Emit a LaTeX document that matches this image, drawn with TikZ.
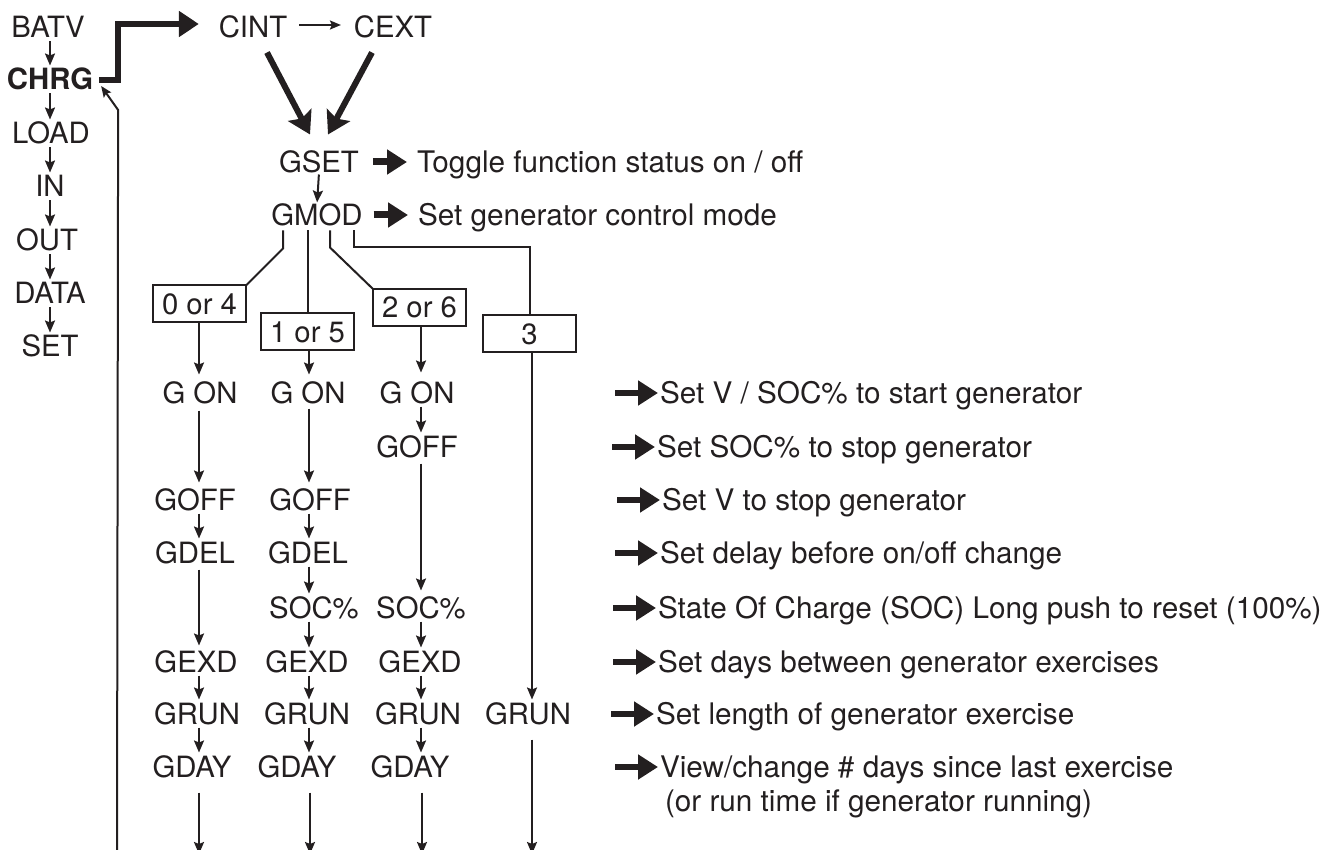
\documentclass[tikz,border=0pt]{standalone}
\usepackage{fontspec}
\setmainfont{TeX Gyre Heros}
\usetikzlibrary{arrows.meta,calc}
\definecolor{ink}{RGB}{35,31,32}
\newcommand{\lblfont}{\fontsize{29.3pt}{35pt}\selectfont}
\newcommand{\descfont}{\fontsize{29.7pt}{35pt}\selectfont}
\begin{document}
\begin{tikzpicture}[x=1pt,y=-1pt,
  lbl/.style={font=\lblfont,text=ink,inner sep=0pt,outer sep=0pt,text height=21pt,text depth=0pt},
  desc/.style={lbl,font=\descfont,anchor=west},
  modebox/.style={lbl,draw=ink,line width=2pt,minimum width=93pt,minimum height=37pt},
  thinline/.style={draw=ink,line width=2pt},
  arr/.style={thinline,-{Stealth[length=12pt,width=10pt,inset=2pt]},shorten <=3pt,shorten >=4pt},
  fat/.style={draw=ink,line width=6pt,-{Stealth[length=22pt,width=26pt,inset=4pt]}},
  side/.style={draw=ink,line width=7pt,-{Triangle[length=20pt,width=24pt]}}
]
\useasboundingbox (0,0) rectangle (1339,850);

% column coordinates
\coordinate (ax) at (50,0);
\coordinate (c1) at (199,0);
\coordinate (c2) at (309,0);
\coordinate (c3) at (421,0);
\coordinate (c4) at (532,0);

% left menu
\node[lbl] (batv) at (48,27) {BATV};
\node[lbl,font=\lblfont\bfseries] (chrg) at (50,79) {CHRG};
\node[lbl] (load) at (51,133) {LOAD};
\node[lbl] (in) at (50,186) {IN};
\node[lbl] (out) at (47,240) {OUT};
\node[lbl] (data) at (50,293) {DATA};
\node[lbl] (set) at (50,346) {SET};
\foreach \a/\b in {batv/chrg,chrg/load,load/in,in/out,out/data,data/set}
  \draw[arr,shorten <=4pt,shorten >=3pt] (\a.south -| ax) -- (\b.north -| ax);

% top
\node[lbl] (cint) at (253,27) {CINT};
\node[lbl] (cext) at (393,27) {CEXT};
\node[lbl] (gset) at (319,162) {GSET};
\node[lbl] (gmod) at (317,215) {GMOD};

\draw[draw=ink,line width=6pt,line join=miter,-{Triangle[length=20pt,width=25pt]}] ($(chrg.east)+(6,1)$) -| ($(chrg.east)+(25,-55)$) -- ($(cint.west)+(-20,-3)$);
\draw[thinline,-{Stealth[length=11pt,width=9pt,inset=2pt]}] ($(cint.east)+(12,-2)$) -- ($(cext.west)+(-13,-2)$);
\draw[fat] ($(cint.south)+(14,15)$) -- ($(gset.north)+(-9,-17)$);
\draw[fat] ($(cext.south)+(-21,15)$) -- ($(gset.north)+(9,-17)$);
\draw[arr,shorten <=2pt,shorten >=2pt] (gset.south) -- (gmod.north);

\node[desc] (tog) at (417,162) {Toggle function status on / off};
\node[desc] (mode) at (418,215) {Set generator control mode};
\draw[side] ($(gset.east)+(14,0)$) -- ($(tog.west)+(-10,0)$);
\draw[side] ($(gmod.east)+(11,0)$) -- ($(mode.west)+(-10,0)$);

% mode boxes
\node[modebox] (b04) at (199.5,304) {0 or 4};
\node[modebox] (b15) at (307.5,332) {1 or 5};
\node[modebox] (b26) at (419.5,307.5) {2 or 6};
\node[modebox] (b3) at (529.5,334) {3};

\draw[thinline,line join=miter] ($(gmod.south)+(-34,5)$) -- ($(gmod.south)+(-34,23)$) -- (b04.north east);
\draw[thinline] ($(gmod.south -| b15.north)+(0,5)$) -- (b15.north);
\draw[thinline,line join=miter] ($(gmod.south)+(13,5)$) -- ($(gmod.south)+(13,22)$) -- (b26.north west);
\draw[thinline,line join=miter] ($(gmod.south)+(37,5)$) |- ($(b3.north)+(0,-68)$) -- (b3.north);

% column 1
\node[lbl] (gon1) at (200,393) {G ON};
\node[lbl] (goff1) at (195,500) {GOFF};
\node[lbl] (gdel1) at (195,553) {GDEL};
\node[lbl] (gexd1) at (196,662) {GEXD};
\node[lbl] (grun1) at (197,714) {GRUN};
\node[lbl] (gday1) at (192,767) {GDAY};
% column 2
\node[lbl] (gon2) at (308,393) {G ON};
\node[lbl] (goff2) at (310,500) {GOFF};
\node[lbl] (gdel2) at (308,553) {GDEL};
\node[lbl] (soc2) at (314,608) {SOC\%};
\node[lbl] (gexd2) at (307,662) {GEXD};
\node[lbl] (grun2) at (307,714) {GRUN};
\node[lbl] (gday2) at (297,767) {GDAY};
% column 3
\node[lbl] (gon3) at (417,393) {G ON};
\node[lbl] (goff3) at (417,447) {GOFF};
\node[lbl] (soc3) at (421,608) {SOC\%};
\node[lbl] (gexd3) at (420,662) {GEXD};
\node[lbl] (grun3) at (418,714) {GRUN};
\node[lbl] (gday3) at (410,767) {GDAY};
% column 4
\node[lbl] (grun4) at (528,714) {GRUN};

% column arrows
\draw[arr,shorten <=0pt,shorten >=8pt] (b04.south -| c1) -- (gon1.north -| c1);
\draw[arr,shorten <=0pt,shorten >=8pt] (b15.south -| c2) -- (gon2.north -| c2);
\draw[arr,shorten <=0pt,shorten >=10pt] (b26.south -| c3) -- (gon3.north -| c3);
\draw[arr,shorten <=0pt,shorten >=4pt] (b3.south -| c4) -- (grun4.north -| c4);

\draw[arr,shorten <=7pt,shorten >=7pt] (gon1.south -| c1) -- (goff1.north -| c1);
\draw[arr] (goff1.south -| c1) -- (gdel1.north -| c1);
\draw[arr,shorten <=6pt,shorten >=6pt] (gdel1.south -| c1) -- (gexd1.north -| c1);
\draw[arr] (gexd1.south -| c1) -- (grun1.north -| c1);
\draw[arr] (grun1.south -| c1) -- (gday1.north -| c1);

\draw[arr,shorten <=5pt,shorten >=7pt] (gon2.south -| c2) -- (goff2.north -| c2);
\draw[arr] (goff2.south -| c2) -- (gdel2.north -| c2);
\draw[arr] (gdel2.south -| c2) -- (soc2.north -| c2);
\draw[arr] (soc2.south -| c2) -- (gexd2.north -| c2);
\draw[arr] (gexd2.south -| c2) -- (grun2.north -| c2);
\draw[arr] (grun2.south -| c2) -- (gday2.north -| c2);

\draw[arr] (gon3.south -| c3) -- (goff3.north -| c3);
\draw[arr,shorten <=6pt,shorten >=7pt] (goff3.south -| c3) -- (soc3.north -| c3);
\draw[arr] (soc3.south -| c3) -- (gexd3.north -| c3);
\draw[arr] (gexd3.south -| c3) -- (grun3.north -| c3);
\draw[arr] (grun3.south -| c3) -- (gday3.north -| c3);

% bottom exits
\coordinate (e1) at (199,854);
\coordinate (e2) at (310,854);
\coordinate (e3) at (422,854);
\coordinate (e4) at (532,854);
\draw[arr,shorten <=15pt,shorten >=0pt] (gday1.south -| e1) -- (e1);
\draw[arr,shorten <=15pt,shorten >=0pt] (gday2.south -| e2) -- (e2);
\draw[arr,shorten <=15pt,shorten >=0pt] (gday3.south -| e3) -- (e3);
\draw[arr,shorten <=15pt,shorten >=0pt] (grun4.south -| e4) -- (e4);

% return line
\coordinate (ret) at (117,855);
\draw[thinline,line join=miter,-{Stealth[length=11pt,width=9pt,inset=2pt]}] (ret) -- ($(chrg.east)+(25,31)$) -- ($(chrg.east)+(8,7)$);

% descriptions
\node[desc] (d1) at (660,393) {Set V / SOC\% to start generator};
\node[desc] (d2) at (657,447) {Set SOC\% to stop generator};
\node[desc] (d3) at (662,500) {Set V to stop generator};
\node[desc] (d4) at (660,553) {Set delay before on/off change};
\node[desc] (d5) at (658,608) {State Of Charge (SOC) Long push to reset (100\%)};
\node[desc] (d6) at (658,662) {Set days between generator exercises};
\node[desc] (d7) at (656,714) {Set length of generator exercise};
\node[desc] (d8) at (660,767) {View/change \# days since last exercise};
\node[desc] (d8b) at (665,801) {(or run time if generator running)};
\foreach \d in {d1,d2,d3,d4,d5,d6,d7,d8}
  \draw[side,line width=6pt] ($(\d.west)+(-45,0)$) -- ($(\d.west)+(-2,0)$);

\end{tikzpicture}
\end{document}
